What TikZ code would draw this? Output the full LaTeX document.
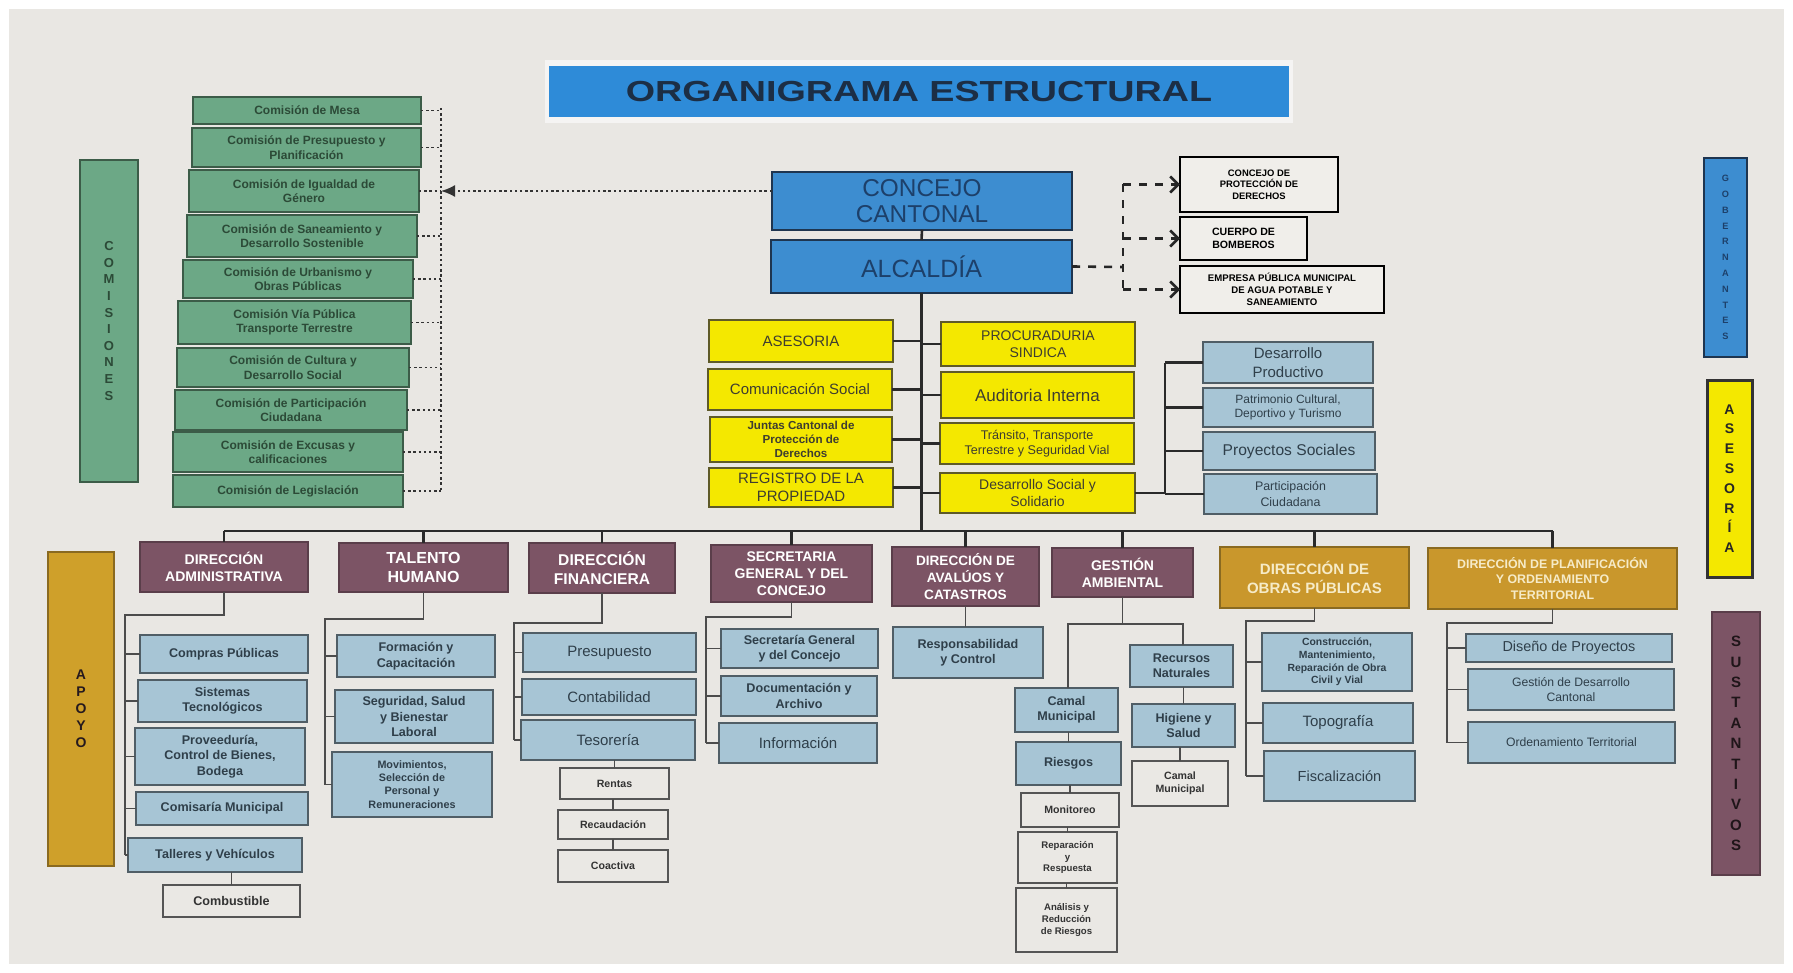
\documentclass[tikz,border=0pt]{standalone}
\usepackage{fontspec}
\setmainfont{Liberation Sans}
\usepackage{graphicx}
\usepackage{tikz}
\usetikzlibrary{arrows.meta}

\definecolor{paper}{HTML}{E9E7E3}
\definecolor{titblue}{HTML}{2E8BD8}
\definecolor{tittext}{HTML}{1C2E45}
\definecolor{gobblue}{HTML}{3D8DD0}
\definecolor{gobedge}{HTML}{1E3550}
\definecolor{gobtext}{HTML}{1D406A}
\definecolor{comgreen}{HTML}{6CA886}
\definecolor{comedge}{HTML}{3C5C48}
\definecolor{comtext}{HTML}{2C4A37}
\definecolor{asyellow}{HTML}{F4E800}
\definecolor{yeledge}{HTML}{5E5A28}
\definecolor{yeltext}{HTML}{3E3D30}
\definecolor{unblue}{HTML}{A7C5D5}
\definecolor{unedge}{HTML}{505E66}
\definecolor{untext}{HTML}{2F3F4A}
\definecolor{subfill}{HTML}{EAE8E4}
\definecolor{subedge}{HTML}{555555}
\definecolor{dirmauve}{HTML}{7C5465}
\definecolor{diredge}{HTML}{5A3E4A}
\definecolor{dirgold}{HTML}{C9972C}
\definecolor{goldedge}{HTML}{8A6A20}
\definecolor{goldtext}{HTML}{F6EBC8}
\definecolor{apogold}{HTML}{CFA02A}
\definecolor{lncol}{HTML}{2A2A2A}
\definecolor{extfill}{HTML}{F0EEEA}

\begin{document}
\begin{tikzpicture}[x=0.5pt,y=-0.5pt,
  cbox/.style n args={4}{at={({(#1+#3)/2},{(#2+#4)/2})},
    minimum width={(#3-#1)*0.5pt}, minimum height={(#4-#2)*0.5pt}},
  tb/.style={font={\pgfmathsetmacro\lskip{1.22*#1}\fontsize{#1}{\lskip}\selectfont\bfseries}},
  tr/.style={font={\pgfmathsetmacro\lskip{1.22*#1}\fontsize{#1}{\lskip}\selectfont}},
  box/.style={draw, inner sep=0pt, outer sep=0pt, align=center, line width=0.9pt},
  comision/.style={box, fill=comgreen, draw=comedge, text=comtext, tb=6},
  gob/.style={box, fill=gobblue, draw=gobedge, line width=1.4pt, text=gobtext, tr=12.5},
  ext/.style={box, fill=extfill, draw=black, line width=1.4pt, text=black, tb=4.8},
  yel/.style={box, fill=asyellow, draw=yeledge, text=yeltext, tr=7.5},
  unidad/.style={box, fill=unblue, draw=unedge, text=untext, tb=6.3},
  sub/.style={box, fill=subfill, draw=subedge, text=black!80, tb=5.3},
  dir/.style={box, fill=dirmauve, draw=diredge, text=white, tb=7},
  dirg/.style={box, fill=dirgold, draw=goldedge, text=goldtext, tb=7.5},
  franja/.style={box, line width=1.1pt},
  ln/.style={line width=1.3pt, draw=lncol},
  lnt/.style={line width=0.9pt, draw=black!70},
  dsh/.style={line width=1.3pt, draw=black!85, dash pattern=on 4pt off 4pt},
  dot/.style={line width=0.9pt, draw=black!80, dash pattern=on 1.2pt off 1.4pt}
]
\fill[white] (0,0) rectangle (1793,973);
\fill[paper] (9,9) rectangle (1784,964);
\useasboundingbox (0,0) rectangle (1793,973);

\fill[white!55!paper] (545,60) rectangle (1293,123);
\node[fill=titblue, inner sep=0pt, cbox={549}{66}{1289}{117}, text=tittext,
  font=\fontsize{14.5}{16}\selectfont\bfseries] (titulo) {\scalebox{1.3}[1]{ORGANIGRAMA ESTRUCTURAL}};

\node[franja, fill=comgreen, draw=comedge, text=comtext, cbox={80}{160}{138}{482},
  font=\fontsize{6.5}{8.3}\selectfont\bfseries] (barcom) {C\\O\\M\\I\\S\\I\\O\\N\\E\\S};
\node[franja, fill=gobblue, draw=gobedge, text=gobtext, cbox={1704}{158}{1747}{357},
  font=\fontsize{4.6}{7.9}\selectfont\bfseries] (bargob) {G\\O\\B\\E\\R\\N\\A\\N\\T\\E\\S};
\node[franja, fill=asyellow, draw=black!80, line width=1.5pt, text=black!85, cbox={1707}{380}{1752}{577},
  font=\fontsize{7}{9.9}\selectfont\bfseries] (barase) {A\\S\\E\\S\\O\\R\\Í\\A};
\node[franja, fill=dirmauve, draw=diredge, text=black!75!dirmauve, cbox={1712}{612}{1760}{875},
  font=\fontsize{7.5}{10.2}\selectfont\bfseries] (barsus) {S\\U\\S\\T\\A\\N\\T\\I\\V\\O\\S};
\node[franja, fill=apogold, draw=goldedge, text=black!70!dirmauve, cbox={48}{552}{114}{866},
  font=\fontsize{7}{8.5}\selectfont\bfseries] (barapo) {A\\P\\O\\Y\\O};

\node[comision, cbox={193}{97}{421}{124}] (c1) {Comisión de Mesa};
\node[comision, cbox={192}{128}{421}{167}] (c2) {Comisión de Presupuesto y\\Planificación};
\node[comision, cbox={189}{170}{419}{212}] (c3) {Comisión de Igualdad de\\Género};
\node[comision, cbox={187}{215}{417}{257}] (c4) {Comisión de Saneamiento y\\Desarrollo Sostenible};
\node[comision, cbox={183}{260}{413}{298}] (c5) {Comisión de Urbanismo y\\Obras Públicas};
\node[comision, cbox={178}{301}{411}{344}] (c6) {Comisión Vía Pública\\Transporte Terrestre};
\node[comision, cbox={177}{348}{409}{387}] (c7) {Comisión de Cultura y\\Desarrollo Social};
\node[comision, cbox={175}{390}{407}{430}] (c8) {Comisión de Participación\\Ciudadana};
\node[comision, cbox={173}{432}{403}{472}] (c9) {Comisión de Excusas y\\calificaciones};
\node[comision, cbox={173}{475}{403}{507}] (c10) {Comisión de Legislación};

\node[gob, cbox={772}{172}{1072}{230}, font=\fontsize{12.2}{13}\selectfont] (conc) {CONCEJO\\CANTONAL};
\node[gob, cbox={771}{240}{1072}{293}] (alc) {ALCALDÍA};

\node[ext, cbox={1180}{157}{1338}{212}, tb=4.7] (cpd) {CONCEJO DE\\PROTECCIÓN DE\\DERECHOS};
\node[ext, cbox={1180}{217}{1307}{260}, tb=5.3] (bomb) {CUERPO DE\\BOMBEROS};
\node[ext, cbox={1180}{266}{1384}{313}] (emp) {EMPRESA PÚBLICA MUNICIPAL\\DE AGUA POTABLE Y\\SANEAMIENTO};

\node[yel, cbox={709}{320}{893}{362}] (ases) {ASESORIA};
\node[yel, cbox={708}{369}{892}{410}] (comu) {Comunicación Social};
\node[yel, cbox={710}{417}{892}{462}, tb=5.8] (junt) {Juntas Cantonal de\\Protección de\\Derechos};
\node[yel, cbox={709}{468}{893}{507}] (regp) {REGISTRO DE LA\\PROPIEDAD};
\node[yel, cbox={941}{322}{1135}{366}, tr=7] (proc) {PROCURADURIA\\SINDICA};
\node[yel, cbox={941}{372}{1134}{418}, tr=8.5] (audi) {Auditoria Interna};
\node[yel, cbox={940}{423}{1134}{464}, tr=6.3] (tran) {Tránsito, Transporte\\Terrestre y Seguridad Vial};
\node[yel, cbox={940}{473}{1135}{513}, tr=7] (dsol) {Desarrollo Social y\\Solidario};

\node[unidad, cbox={1203}{342}{1373}{383}, tr=7.5] (dpro) {Desarrollo\\Productivo};
\node[unidad, cbox={1203}{388}{1373}{427}, tr=6] (patr) {Patrimonio Cultural,\\Deportivo y Turismo};
\node[unidad, cbox={1203}{432}{1375}{470}, tr=7.8] (psoc) {Proyectos Sociales};
\node[unidad, cbox={1204}{474}{1377}{514}, tr=6.2] (pciu) {Participación\\Ciudadana};

\node[dir, cbox={140}{542}{308}{592}] (dadm) {DIRECCIÓN\\ADMINISTRATIVA};
\node[dir, cbox={339}{543}{508}{592}, tb=8] (dtal) {TALENTO\\HUMANO};
\node[dir, cbox={529}{543}{675}{593}, tb=7.8] (dfin) {DIRECCIÓN\\FINANCIERA};
\node[dir, cbox={711}{545}{872}{602}] (dsec) {SECRETARIA\\GENERAL Y DEL\\CONCEJO};
\node[dir, cbox={892}{547}{1039}{606}, tb=6.8] (daval) {DIRECCIÓN DE\\AVALÚOS Y\\CATASTROS};
\node[dir, cbox={1052}{548}{1193}{597}] (dges) {GESTIÓN\\AMBIENTAL};
\node[dirg, cbox={1220}{547}{1409}{608}] (dobr) {DIRECCIÓN DE\\OBRAS PÚBLICAS};
\node[dirg, cbox={1428}{548}{1677}{609}, tb=6.2] (dpla) {DIRECCIÓN DE PLANIFICACIÓN\\Y ORDENAMIENTO\\TERRITORIAL};

\node[unidad, cbox={140}{635}{308}{673}] (cpub) {Compras Públicas};
\node[unidad, cbox={138}{680}{307}{722}] (sist) {Sistemas\\Tecnológicos};
\node[unidad, cbox={135}{728}{305}{785}] (prov) {Proveeduría,\\Control de Bienes,\\Bodega};
\node[unidad, cbox={136}{792}{308}{825}] (comis) {Comisaría Municipal};
\node[unidad, cbox={128}{838}{302}{872}] (tall) {Talleres y Vehículos};
\node[sub, cbox={163}{885}{300}{917}, tb=6.3] (comb) {Combustible};

\node[unidad, cbox={337}{635}{495}{677}] (form) {Formación y\\Capacitación};
\node[unidad, cbox={335}{690}{493}{743}] (segu) {Seguridad, Salud\\y Bienestar\\Laboral};
\node[unidad, cbox={332}{752}{492}{817}, tb=5.4] (movi) {Movimientos,\\Selección de\\Personal y\\Remuneraciones};

\node[unidad, cbox={523}{633}{696}{672}, tr=7.5] (pres) {Presupuesto};
\node[unidad, cbox={522}{679}{696}{715}, tr=7.5] (cont) {Contabilidad};
\node[unidad, cbox={521}{720}{695}{760}, tr=7.5] (teso) {Tesorería};
\node[sub, cbox={560}{768}{669}{799}] (rent) {Rentas};
\node[sub, cbox={558}{810}{668}{839}] (reca) {Recaudación};
\node[sub, cbox={558}{850}{668}{882}] (coac) {Coactiva};

\node[unidad, cbox={721}{629}{878}{668}] (sgen) {Secretaría General\\y del Concejo};
\node[unidad, cbox={721}{676}{877}{716}] (docu) {Documentación y\\Archivo};
\node[unidad, cbox={719}{723}{877}{763}, tr=7.5] (info) {Información};

\node[unidad, cbox={893}{627}{1043}{678}] (resp) {Responsabilidad\\y Control};

\node[unidad, cbox={1015}{688}{1118}{732}] (cam1) {Camal\\Municipal};
\node[unidad, cbox={1016}{742}{1121}{785}] (ries) {Riesgos};
\node[sub, cbox={1021}{793}{1119}{827}] (moni) {Monitoreo};
\node[sub, cbox={1018}{832}{1117}{883}, tb=4.8] (repa) {Reparación\\y\\Respuesta};
\node[sub, cbox={1016}{888}{1117}{952}, tb=4.8] (anal) {Análisis y\\Reducción\\de Riesgos};
\node[unidad, cbox={1130}{645}{1233}{687}] (recn) {Recursos\\Naturales};
\node[unidad, cbox={1132}{704}{1235}{747}] (higi) {Higiene y\\Salud};
\node[sub, cbox={1132}{761}{1228}{806}] (cam2) {Camal\\Municipal};

\node[unidad, cbox={1262}{633}{1412}{691}, tb=5.2] (cons) {Construcción,\\Mantenimiento,\\Reparación de Obra\\Civil y Vial};
\node[unidad, cbox={1263}{703}{1413}{743}, tr=7.5] (topo) {Topografía};
\node[unidad, cbox={1264}{751}{1415}{801}, tr=7.3] (fisc) {Fiscalización};

\node[unidad, cbox={1466}{634}{1672}{662}, tr=7.2] (dise) {Diseño de Proyectos};
\node[unidad, cbox={1468}{669}{1674}{710}, tr=6.1] (gdes) {Gestión de Desarrollo\\Cantonal};
\node[unidad, cbox={1468}{722}{1675}{763}, tr=6.1] (orde) {Ordenamiento Territorial};

\coordinate (cbus) at (441,108);
\draw[dot] (cbus) -- (cbus |- c10);
\foreach \n in {c1,c2,c3,c4,c5,c6,c7,c8,c9,c10}
  \draw[dot] (\n.east) -- (cbus |- \n);
\draw[dot, -{Latex[length=7pt,width=6pt]}] (conc.west |- c3) -- (cbus |- c3);

\draw[ln] (conc.south) -- (alc.north);
\coordinate (dj) at (1123,267);
\draw[dsh] (alc.east) -- (dj);
\draw[dsh] (dj |- cpd) -- (dj |- emp);
\foreach \n in {cpd,bomb,emp}
  \draw[dsh, -{Straight Barb[length=4pt,width=8pt]}] (dj |- \n) -- (\n.west);

\coordinate (busL) at (224,531);
\draw[ln] (alc.south) -- (alc.south |- busL);
\draw[ln] (dadm.north |- busL) -- (dpla.north |- busL);
\foreach \n in {dadm,dtal,dfin,dsec,daval,dges,dobr,dpla}
  \draw[ln] (\n.north |- busL) -- (\n.north);
\foreach \n in {ases,comu,junt,regp}
  \draw[ln] (\n.east) -- (\n.east -| alc.south);
\foreach \n in {proc,audi,tran,dsol}
  \draw[ln] (\n.west) -- (\n.west -| alc.south);

\coordinate (dsbus) at (1165,493);
\draw[ln] (dsol.east) -- (dsbus) -- (dsbus |- dpro);
\foreach \n in {dpro,patr,psoc,pciu}
  \draw[ln] (dsbus |- \n) -- (\n.west);

\coordinate (admbus) at (125,615);
\draw[lnt] (dadm.south) |- (admbus) -- (admbus |- tall);
\foreach \n in {cpub,sist,prov,comis,tall}
  \draw[lnt] (admbus |- \n) -- (\n.west);
\draw[lnt] (comb.north) -- (comb.north |- tall.south);

\coordinate (talbus) at (325,619);
\draw[lnt] (dtal.south) |- (talbus) -- (talbus |- movi);
\foreach \n in {form,segu,movi}
  \draw[lnt] (talbus |- \n) -- (\n.west);

\coordinate (finbus) at (514,623);
\draw[lnt] (dfin.south) |- (finbus) -- (finbus |- teso);
\foreach \n in {pres,cont,teso}
  \draw[lnt] (finbus |- \n) -- (\n.west);
\draw[lnt] (rent.north) -- (rent.north |- teso.south);
\draw[lnt] (reca.north) -- (reca.north |- rent.south);
\draw[lnt] (coac.north) -- (coac.north |- reca.south);

\coordinate (secbus) at (706,617);
\draw[lnt] (dsec.south) |- (secbus) -- (secbus |- info);
\foreach \n in {sgen,docu,info}
  \draw[lnt] (secbus |- \n) -- (\n.west);

\draw[lnt] (daval.south) -- (daval.south |- resp.north);

\coordinate (gesL) at (1068,624);
\coordinate (gesR) at (1183,624);
\draw[lnt] (dges.south) -- (dges.south |- gesL);
\draw[lnt] (gesL |- cam1.north) -- (gesL) -- (gesR) -- (gesR |- recn.north);
\draw[lnt] (ries.north) -- (ries.north |- cam1.south);
\draw[lnt] (moni.north) -- (moni.north |- ries.south);
\draw[lnt] (repa.north) -- (repa.north |- moni.south);
\draw[lnt] (anal.north) -- (anal.north |- repa.south);
\draw[lnt] (higi.north) -- (higi.north |- recn.south);
\draw[lnt] (cam2.north) -- (cam2.north |- higi.south);

\coordinate (obrbus) at (1246,621);
\draw[lnt] (dobr.south) |- (obrbus) -- (obrbus |- fisc);
\foreach \n in {cons,topo,fisc}
  \draw[lnt] (obrbus |- \n) -- (\n.west);

\coordinate (plabus) at (1447,623);
\draw[lnt] (dpla.south) |- (plabus) -- (plabus |- orde);
\foreach \n in {dise,gdes,orde}
  \draw[lnt] (plabus |- \n) -- (\n.west);
\end{tikzpicture}
\end{document}
